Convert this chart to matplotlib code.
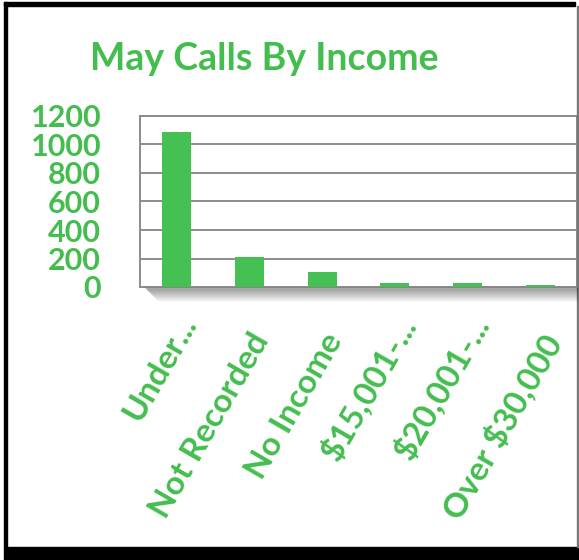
import matplotlib.pyplot as plt
from matplotlib.patches import Rectangle
from matplotlib.transforms import ScaledTranslation

# data
categories = ['Under...', 'Not Recorded', 'No Income', '$15,001-...', '$20,001-...', 'Over $30,000']
calls = [1090, 213, 103, 28, 27, 16]
yticks = [0, 200, 400, 600, 800, 1000, 1200]

green_text = '#44bd4f'
green_bar = '#45c154'
grid_gray = '#8c8c8c'

W, H = 579, 560
fig = plt.figure(figsize=(W / 100, H / 100), dpi=100)
fig.patch.set_facecolor('white')

ax = fig.add_axes([140 / W, 1 - 287 / H, 437 / W, 171 / H])
ax.bar(range(len(calls)), calls, width=0.4, color=green_bar, zorder=3)
ax.set_xlim(-0.5, len(calls) - 0.5)
ax.set_ylim(0, 1200)
ax.set_yticks(yticks)
ax.set_yticklabels([str(v) for v in yticks])
ax.yaxis.grid(True, color=grid_gray, linewidth=1.4, zorder=0)
ax.set_xticks(range(len(categories)))
ax.set_xticklabels(categories, rotation=60, ha='right', rotation_mode='anchor')
ax.tick_params(length=0)
ax.tick_params(axis='y', pad=28, labelsize=22, labelcolor=green_text)
ax.tick_params(axis='x', pad=30, labelsize=24, labelcolor=green_text)
for lab in ax.get_yticklabels() + ax.get_xticklabels():
    lab.set_family('Lato')
    lab.set_fontweight('bold')
# truncated labels sit closer to the axis, like in the original
for lab in ax.get_xticklabels():
    if lab.get_text().endswith('...'):
        lab.set_transform(lab.get_transform() + ScaledTranslation(0, 0.18, fig.dpi_scale_trans))
for s in ax.spines.values():
    s.set_color(grid_gray)
    s.set_linewidth(1.4)

# soft shadow under the plot area
for i in range(14):
    y = 1 - (288 + i) / H
    fig.add_artist(plt.Line2D([(146 + i) / W, 577 / W], [y, y], color='black',
                              alpha=0.3 * (1 - i / 14), linewidth=1, transform=fig.transFigure))

fig.text(264 / W, 1 - 70 / H, 'May Calls By Income', ha='center', va='baseline',
         fontsize=27, color=green_text, family='Lato', fontweight='bold')

# outer frame: black left/top edges, black band at the bottom, thin gray right edge
fig.add_artist(Rectangle((4 / W, 13 / H), 3 / W, (H - 15) / H, color='black', transform=fig.transFigure))
fig.add_artist(Rectangle((4 / W, 1 - 6 / H), 571 / W, 4 / H, color='black', transform=fig.transFigure))
fig.add_artist(Rectangle((4 / W, 0), 575 / W, 13 / H, color='black', transform=fig.transFigure))
fig.add_artist(Rectangle((576.5 / W, 13 / H), 1.5 / W, (H - 19) / H, color='#777777', transform=fig.transFigure))

fig.savefig('out.png', dpi=100)
